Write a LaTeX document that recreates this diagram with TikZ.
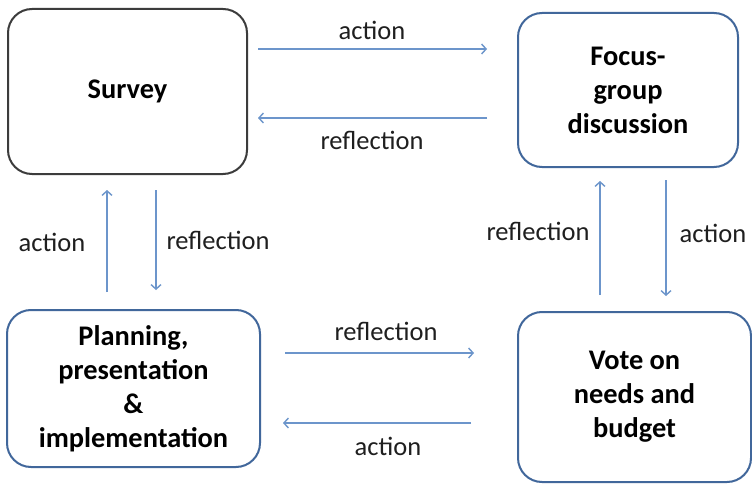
\documentclass[tikz,border=0pt]{standalone}
\usepackage{fontspec}
\setmainfont{Carlito}
\usetikzlibrary{arrows.meta}
\definecolor{boxblue}{HTML}{41679B}
\definecolor{boxgrey}{HTML}{3C3C3C}
\definecolor{arrowblue}{HTML}{6C95CB}
\tikzset{
  stagebox/.style={draw=boxblue, line width=2pt, rounded corners=24pt,
    align=center, font=\fontsize{28.4}{34}\selectfont\bfseries, inner sep=0pt},
  flow/.style={draw=arrowblue, line width=1.4pt,
    -{Straight Barb[length=4.5pt,width=10pt,line width=1.4pt]}},
  flowlabel/.style={font=\fontsize{26.5}{30}\selectfont, text=black!88, inner sep=0pt}
}
\begin{document}
\begin{tikzpicture}[x=1pt,y=-1pt]
\useasboundingbox (0,0) rectangle (752,484);
\fill[white] (0,0) rectangle (752,484);

% the four stages
\node[stagebox, draw=boxgrey, minimum width=239pt, minimum height=165pt] (survey) at (127.5,91.5) {Survey};
\node[stagebox, minimum width=220pt, minimum height=154pt] (focus) at (628,90) {Focus-\\group\\discussion};
\node[stagebox, minimum width=253pt, minimum height=157pt] (plan) at (133.5,388.5) {Planning,\\presentation\\\&\\implementation};
\node[stagebox, minimum width=233pt, minimum height=170pt] (vote) at (634.5,397) {Vote on\\needs and\\budget};

% arrow end points
\coordinate (sf1) at (258,49);  \coordinate (sf2) at (487,49);
\coordinate (fs1) at (487,118); \coordinate (fs2) at (258,118);
\coordinate (ps1) at (107,292); \coordinate (ps2) at (107,190);
\coordinate (sp1) at (156,190); \coordinate (sp2) at (156,290);
\coordinate (vf1) at (600,295); \coordinate (vf2) at (600,181);
\coordinate (fv1) at (666,180); \coordinate (fv2) at (666,296);
\coordinate (pv1) at (285,353); \coordinate (pv2) at (474,353);
\coordinate (vp1) at (471,423); \coordinate (vp2) at (283,423);

\draw[flow] (sf1) -- (sf2);
\draw[flow] (fs1) -- (fs2);
\draw[flow] (ps1) -- (ps2);
\draw[flow] (sp1) -- (sp2);
\draw[flow] (vf1) -- (vf2);
\draw[flow] (fv1) -- (fv2);
\draw[flow] (pv1) -- (pv2);
\draw[flow] (vp1) -- (vp2);

% labels
\node[flowlabel] (l1) at (372,30) {action};
\node[flowlabel] (l2) at (372,140) {reflection};
\node[flowlabel] (l3) at (52,242) {action};
\node[flowlabel] (l4) at (218,240) {reflection};
\node[flowlabel] (l5) at (538,231) {reflection};
\node[flowlabel] (l6) at (713,233) {action};
\node[flowlabel] (l7) at (386,331) {reflection};
\node[flowlabel] (l8) at (388,446) {action};
\end{tikzpicture}
\end{document}
